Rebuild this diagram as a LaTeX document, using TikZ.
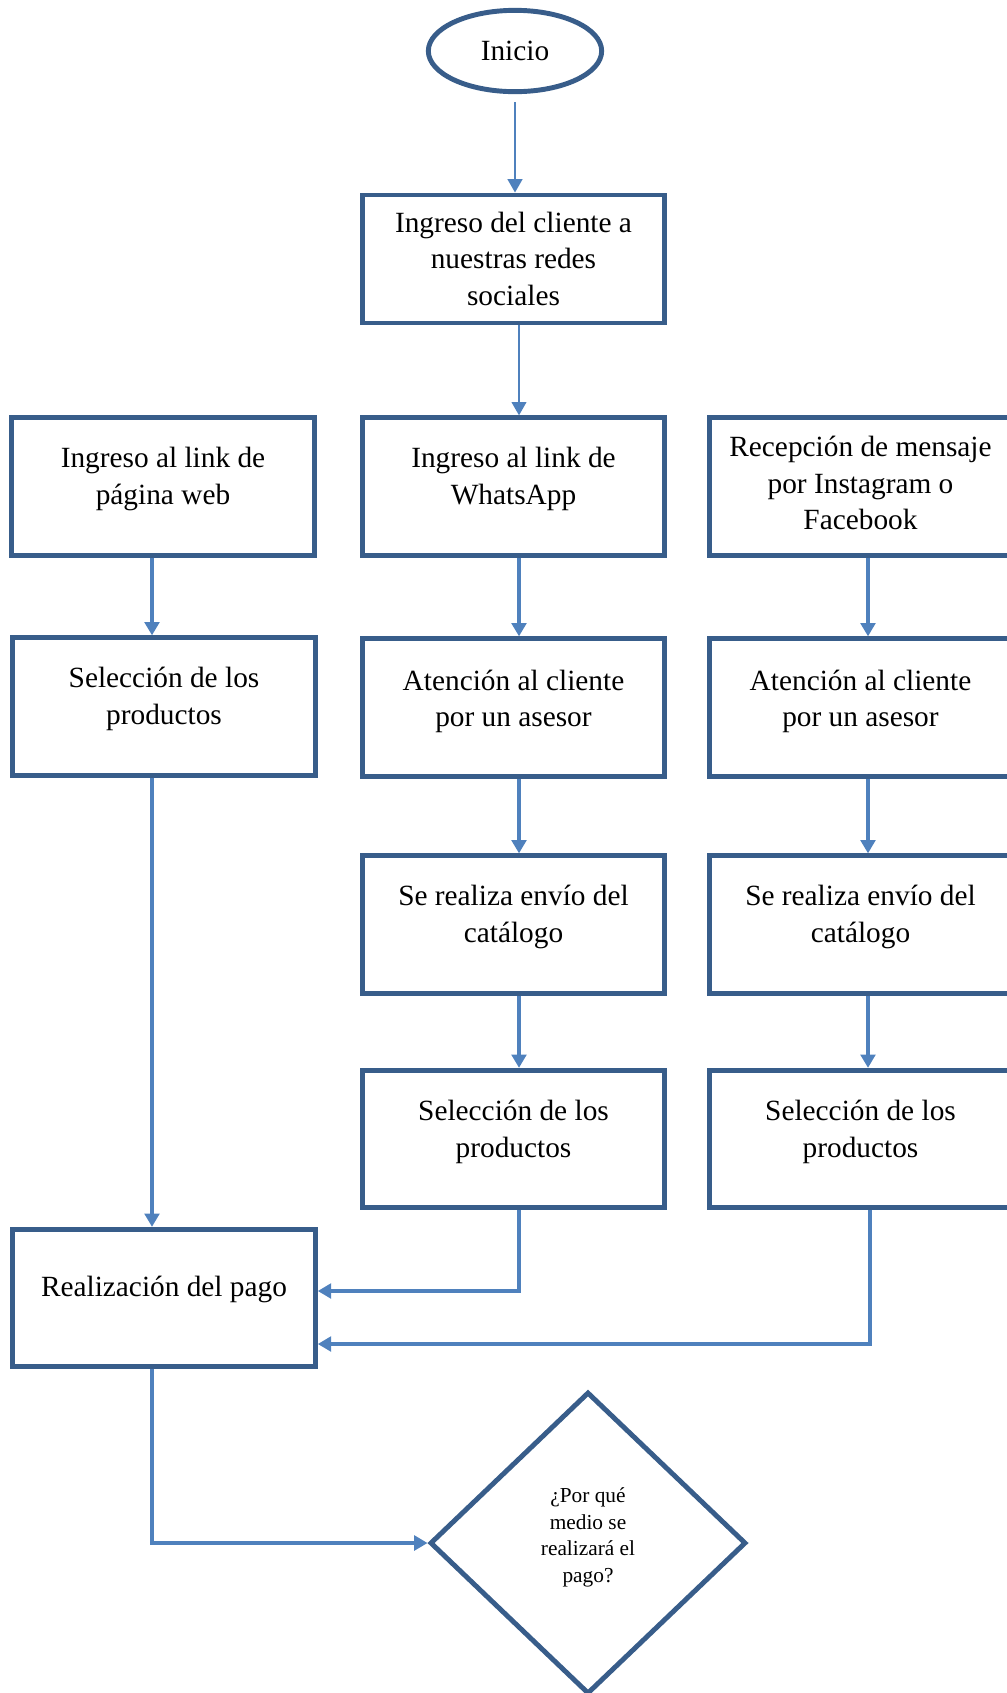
\documentclass[tikz,border=0pt]{standalone}
\usepackage{fontspec}
\setmainfont{Liberation Serif}
\usetikzlibrary{shapes.geometric,arrows.meta,calc}
\definecolor{borde}{RGB}{56,93,138}
\definecolor{flecha}{RGB}{79,129,189}
\newcommand{\texto}[3]{\parbox[c][#1][t]{227pt}{\centering\rule{0pt}{#2}#3}}

\begin{document}
\begin{tikzpicture}[x=0.75pt,y=-0.75pt,
    caja/.style={draw=borde,line width=3.7pt,rectangle,inner sep=0pt,
      font=\fontsize{22}{27.5}\selectfont},
    gruesa/.style={draw=flecha,line width=3.6pt,-{Triangle[width=11pt,length=10pt]}},
    fina/.style={draw=flecha,line width=1.5pt,-{Triangle[width=11pt,length=10pt]}}]
  \useasboundingbox (0,0) rectangle (1007,1693);
  \clip (0,0) rectangle (1007,1693);
  \coordinate (ejeA) at (152,0);
  \coordinate (ejeB) at (519,0);
  \coordinate (ejeC) at (868,0);
  \coordinate (ejeD) at (870,0);

  \node[draw=borde,line width=3.7pt,ellipse,minimum width=130pt,minimum height=61pt,
    inner sep=0pt,font=\fontsize{22}{27.5}\selectfont] (inicio) at (515,51) {Inicio};
  \node[caja] (b1) at (513.5,259)
    {\texto{96pt}{27.75pt}{Ingreso del cliente a\\nuestras redes\\sociales}};
  \node[caja] (b2l) at (163,486.5)
    {\texto{103pt}{37.5pt}{Ingreso al link de\\página web}};
  \node[caja] (b2m) at (513.5,486.5)
    {\texto{103pt}{37.5pt}{Ingreso al link de\\WhatsApp}};
  \node[caja] (b2r) at (860.5,486.5)
    {\texto{103pt}{29pt}{Recepción de mensaje\\por Instagram o\\Facebook}};
  \node[caja] (b3l) at (164,706.5)
    {\texto{103pt}{37.5pt}{Selección de los\\productos}};
  \node[caja] (b3m) at (513.5,707.5)
    {\texto{103pt}{38.5pt}{Atención al cliente\\por un asesor}};
  \node[caja] (b3r) at (860.5,707.5)
    {\texto{103pt}{38.5pt}{Atención al cliente\\por un asesor}};
  \node[caja] (b4m) at (513.5,924.5)
    {\texto{103pt}{37.5pt}{Se realiza envío del\\catálogo}};
  \node[caja] (b4r) at (860.5,924.5)
    {\texto{103pt}{37.5pt}{Se realiza envío del\\catálogo}};
  \node[caja] (b5m) at (513.5,1139)
    {\texto{103pt}{37.5pt}{Selección de los\\productos}};
  \node[caja] (b5r) at (860.5,1139)
    {\texto{103pt}{37.5pt}{Selección de los\\productos}};
  \node[caja] (pago) at (164,1298)
    {\texto{103pt}{50pt}{Realización del pago}};
  \node[draw=borde,line width=3.7pt,diamond,minimum width=237pt,minimum height=226.5pt,
    inner sep=0pt,text depth=12pt,font=\fontsize{16}{20}\selectfont] (medio) at (588,1543)
    {\parbox[b]{110pt}{\centering ¿Por qué\\medio se\\realizará el\\pago?}};

  \draw[fina,shorten <=6pt] (inicio.south) -- (inicio.south |- b1.north);
  \draw[fina] (b1.south -| ejeB) -- (b2m.north -| ejeB);
  \draw[gruesa] (b2l.south -| ejeA) -- (b3l.north -| ejeA);
  \draw[gruesa] (b3l.south -| ejeA) -- (pago.north -| ejeA);
  \draw[gruesa] (b2m.south -| ejeB) -- (b3m.north -| ejeB);
  \draw[gruesa] (b3m.south -| ejeB) -- (b4m.north -| ejeB);
  \draw[gruesa] (b4m.south -| ejeB) -- (b5m.north -| ejeB);
  \draw[gruesa] (b2r.south -| ejeC) -- (b3r.north -| ejeC);
  \draw[gruesa] (b3r.south -| ejeC) -- (b4r.north -| ejeC);
  \draw[gruesa] (b4r.south -| ejeC) -- (b5r.north -| ejeC);
  \draw[gruesa] (b5m.south -| ejeB) |- ($(pago.east)+(0,-7)$);
  \draw[gruesa] (b5r.south -| ejeD) |- ($(pago.east)+(0,46)$);
  \draw[gruesa] (pago.south -| ejeA) |- (medio.west);
\end{tikzpicture}
\end{document}
